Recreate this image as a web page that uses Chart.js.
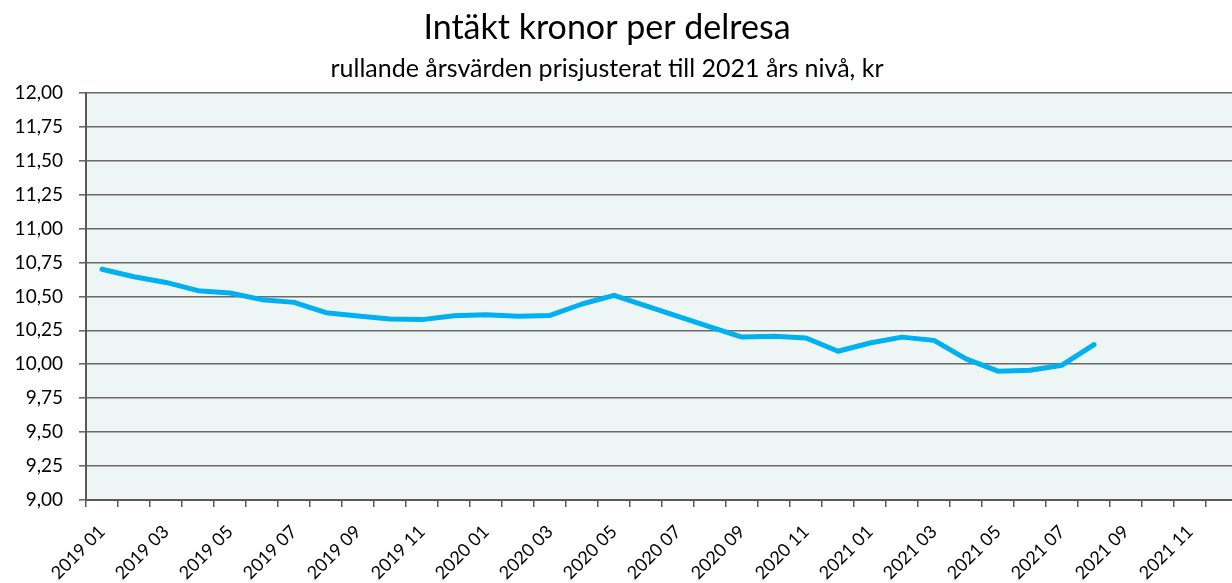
<!DOCTYPE html>
<html>
<head>
<meta charset="utf-8">
<script src="https://cdn.jsdelivr.net/npm/chart.js@4"></script>
<style>
  html, body { margin: 0; padding: 0; background: #fff; overflow: hidden; width: 1232px; height: 583px; }
  #wrap { position: absolute; left: -24px; top: 0; width: 1262px; height: 583px; }
</style>
</head>
<body>
<div id="wrap"><canvas id="c" width="1262" height="583"></canvas></div>
<script>
const titleText = 'Intäkt kronor per delresa';
const subtitleText = 'rullande årsvärden prisjusterat till 2021 års nivå, kr';

const months = [
  '2019 01','2019 02','2019 03','2019 04','2019 05','2019 06','2019 07','2019 08','2019 09','2019 10','2019 11','2019 12',
  '2020 01','2020 02','2020 03','2020 04','2020 05','2020 06','2020 07','2020 08','2020 09','2020 10','2020 11','2020 12',
  '2021 01','2021 02','2021 03','2021 04','2021 05','2021 06','2021 07','2021 08','2021 09','2021 10','2021 11','2021 12'
];

const revenuePerTrip = [
  10.70, 10.645, 10.603, 10.542, 10.525, 10.476, 10.456, 10.38, 10.355, 10.334, 10.329, 10.358,
  10.365, 10.353, 10.36, 10.444, 10.507, 10.43, 10.353, 10.275, 10.20, 10.206, 10.194, 10.096,
  10.157, 10.20, 10.176, 10.04, 9.949, 9.956, 9.993, 10.145, null, null, null, null
];

const yMin = 9.00, yMax = 12.00, yStep = 0.25;

const plotBg = {
  id: 'plotBg',
  beforeDraw(chart) {
    const a = chart.chartArea, ctx = chart.ctx;
    ctx.save();
    ctx.fillStyle = '#EDF6F4';
    ctx.fillRect(a.left, a.top, a.right - a.left, a.bottom - a.top);
    ctx.restore();
  }
};

new Chart(document.getElementById('c'), {
  type: 'line',
  data: {
    labels: months,
    datasets: [{
      data: revenuePerTrip,
      borderColor: '#00B0F0',
      borderWidth: 5,
      pointRadius: 0,
      tension: 0,
      borderCapStyle: 'round',
      borderJoinStyle: 'round',
      spanGaps: false
    }]
  },
  options: {
    responsive: false,
    animation: false,
    devicePixelRatio: 1,
    layout: { padding: 0 },
    plugins: {
      legend: { display: false },
      tooltip: { enabled: false },
      title: {
        display: true, text: titleText, color: '#000',
        font: { family: 'Lato', size: 34, weight: 'normal' },
        padding: { top: 8, bottom: 5 }
      },
      subtitle: {
        display: true, text: subtitleText, color: '#000',
        font: { family: 'Lato', size: 25, weight: 'normal' },
        padding: { top: 0, bottom: 9 }
      }
    },
    scales: {
      x: {
        type: 'category',
        offset: true,
        afterFit(scale) { scale.height = 83; scale.paddingRight = 0; scale.paddingLeft = 0; },
        grid: {
          display: true, drawOnChartArea: false, drawTicks: true,
          tickLength: 7, offset: true, color: '#595959', lineWidth: 1.5
        },
        border: { display: true, color: '#595959', width: 2 },
        ticks: {
          autoSkip: false, minRotation: 45, maxRotation: 45,
          color: '#000', padding: 14,
          font: { family: 'Lato', size: 18 },
          callback(v, i) { return i % 2 === 0 ? months[i] : ''; }
        }
      },
      y: {
        min: yMin, max: yMax,
        afterFit(scale) { scale.width = 110; },
        grid: {
          color: '#6a6a6a', lineWidth: 1.6, drawTicks: true, tickLength: 7
        },
        border: { display: true, color: '#595959', width: 2 },
        ticks: {
          stepSize: yStep, color: '#000', padding: 16,
          font: { family: 'Lato', size: 19 },
          callback(v) { return v.toFixed(2).replace('.', ','); }
        }
      }
    }
  },
  plugins: [plotBg]
});
</script>
</body>
</html>
